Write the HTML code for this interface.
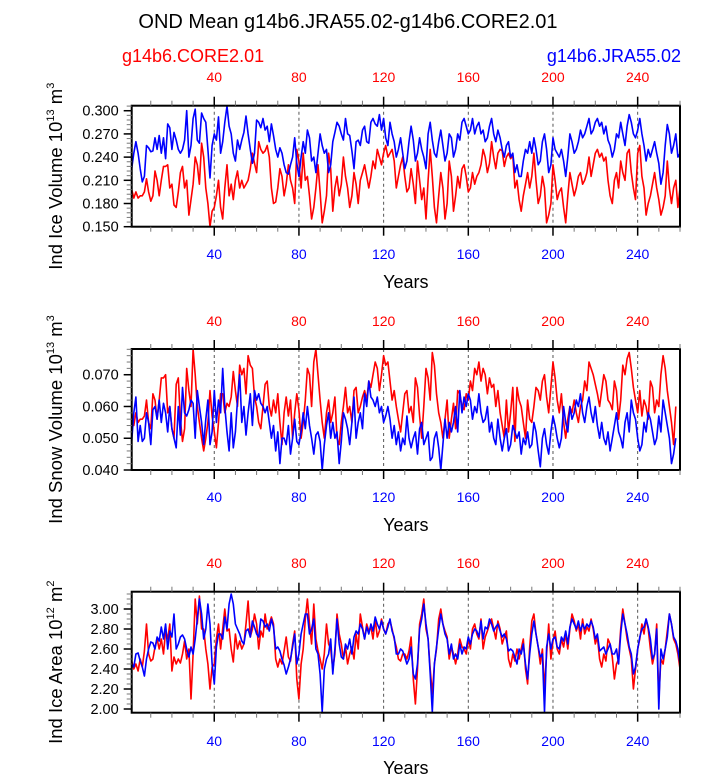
<!DOCTYPE html>
<html><head><meta charset="utf-8"><style>
body{margin:0;background:#fff;}
svg{display:block;font-family:"Liberation Sans",Arial,sans-serif;}
</style></head><body>
<svg id="chart" width="723" height="775" viewBox="0 0 723 775" xmlns="http://www.w3.org/2000/svg">
<text x="348" y="28" font-size="20" text-anchor="middle">OND Mean g14b6.JRA55.02-g14b6.CORE2.01</text>
<text x="122" y="62" font-size="18" fill="#ff0000">g14b6.CORE2.01</text>
<text x="681" y="62" font-size="18" fill="#0000ff" text-anchor="end">g14b6.JRA55.02</text>
<g id="panels"></g>
</svg>
<script>
const years = [40,80,120,160,200,240];
const iceVolCore = [0.198,0.187,0.195,0.187,0.19,0.19,0.195,0.212,0.195,0.183,0.19,0.222,0.21,0.19,0.21,0.228,0.228,0.23,0.2,0.205,0.178,0.175,0.195,0.22,0.228,0.2,0.21,0.165,0.185,0.205,0.24,0.23,0.205,0.258,0.24,0.2,0.18,0.15,0.17,0.175,0.19,0.21,0.175,0.16,0.2,0.23,0.19,0.205,0.185,0.21,0.222,0.2,0.21,0.2,0.205,0.21,0.225,0.245,0.232,0.22,0.26,0.25,
0.245,0.248,0.255,0.24,0.2,0.18,0.182,0.2,0.225,0.215,0.19,0.205,0.23,0.21,0.2,0.18,0.25,0.235,0.2,0.245,0.21,0.215,0.19,0.16,0.175,0.2,0.23,0.195,0.155,0.17,0.19,0.245,0.225,0.17,0.2,0.215,0.19,0.205,0.24,0.215,0.2,0.175,0.19,0.22,0.205,0.18,0.21,0.22,0.23,0.215,0.2,0.215,0.235,0.225,0.25,0.24,0.23,0.245,0.255,0.24,0.245,0.25,
0.235,0.2,0.215,0.23,0.24,0.215,0.195,0.2,0.225,0.205,0.18,0.235,0.21,0.185,0.2,0.16,0.21,0.25,0.215,0.175,0.155,0.19,0.22,0.2,0.16,0.18,0.235,0.215,0.17,0.19,0.215,0.2,0.225,0.23,0.215,0.195,0.2,0.22,0.205,0.215,0.22,0.23,0.25,0.24,0.22,0.232,0.26,0.24,0.225,0.245,0.25,0.248,0.228,0.24,0.245,0.238,0.242,0.2,0.21,0.185,0.17,0.19,
0.205,0.22,0.2,0.215,0.245,0.21,0.18,0.19,0.215,0.2,0.155,0.165,0.18,0.23,0.21,0.185,0.195,0.2,0.175,0.155,0.19,0.22,0.205,0.19,0.2,0.215,0.22,0.205,0.21,0.22,0.24,0.215,0.23,0.245,0.25,0.24,0.245,0.235,0.24,0.21,0.19,0.18,0.21,0.22,0.2,0.235,0.22,0.21,0.245,0.25,0.22,0.2,0.185,0.245,0.255,0.215,0.2,0.165,0.18,0.19,0.205,0.22,
0.2,0.185,0.165,0.175,0.19,0.235,0.2,0.18,0.2,0.21,0.175,0.2];
const iceVolJra = [0.225,0.245,0.26,0.245,0.225,0.208,0.215,0.255,0.252,0.247,0.248,0.265,0.25,0.268,0.245,0.265,0.238,0.283,0.278,0.25,0.272,0.262,0.25,0.245,0.25,0.262,0.3,0.24,0.255,0.29,0.302,0.262,0.258,0.297,0.29,0.285,0.25,0.213,0.255,0.27,0.262,0.292,0.245,0.26,0.285,0.306,0.28,0.27,0.245,0.235,0.262,0.25,0.262,0.272,0.293,0.27,0.25,0.232,0.245,0.288,0.285,0.278,
0.29,0.275,0.28,0.26,0.283,0.268,0.25,0.24,0.252,0.245,0.23,0.22,0.218,0.23,0.24,0.265,0.232,0.215,0.24,0.26,0.245,0.275,0.265,0.235,0.24,0.22,0.245,0.27,0.255,0.245,0.25,0.22,0.23,0.26,0.272,0.285,0.28,0.27,0.262,0.29,0.27,0.268,0.248,0.225,0.26,0.262,0.255,0.275,0.28,0.26,0.258,0.285,0.29,0.283,0.28,0.295,0.275,0.29,0.265,0.255,0.285,0.27,
0.26,0.24,0.25,0.265,0.245,0.225,0.235,0.26,0.28,0.262,0.235,0.245,0.265,0.25,0.24,0.225,0.27,0.285,0.262,0.245,0.24,0.26,0.275,0.255,0.235,0.245,0.27,0.265,0.24,0.25,0.27,0.262,0.285,0.29,0.28,0.27,0.275,0.29,0.27,0.28,0.285,0.27,0.275,0.26,0.265,0.28,0.29,0.27,0.26,0.275,0.265,0.25,0.24,0.255,0.26,0.24,0.245,0.22,0.23,0.215,0.215,0.235,
0.25,0.245,0.26,0.245,0.265,0.25,0.23,0.235,0.26,0.27,0.25,0.22,0.23,0.265,0.25,0.245,0.24,0.25,0.235,0.215,0.24,0.27,0.26,0.245,0.25,0.26,0.275,0.265,0.27,0.28,0.29,0.27,0.275,0.285,0.29,0.28,0.285,0.27,0.28,0.262,0.255,0.24,0.25,0.27,0.265,0.285,0.27,0.255,0.28,0.295,0.285,0.27,0.265,0.275,0.29,0.27,0.255,0.235,0.25,0.24,0.25,0.26,
0.245,0.232,0.205,0.22,0.255,0.282,0.27,0.245,0.255,0.27,0.24,0.245];
const snowCore = [0.058,0.054,0.058,0.055,0.056,0.056,0.057,0.062,0.055,0.053,0.064,0.062,0.056,0.062,0.069,0.069,0.07,0.058,0.06,0.053,0.05,0.067,0.069,0.056,0.049,0.053,0.072,0.065,0.06,0.078,0.07,0.06,0.055,0.05,0.046,0.05,0.055,0.065,0.057,0.052,0.047,0.055,0.064,0.064,0.058,0.061,0.06,0.063,0.071,0.065,0.06,0.073,0.07,0.072,0.064,0.076,0.073,0.072,0.063,0.06,0.055,0.053,
0.06,0.067,0.068,0.06,0.057,0.062,0.058,0.064,0.055,0.048,0.058,0.063,0.057,0.062,0.05,0.058,0.064,0.059,0.05,0.055,0.062,0.072,0.07,0.06,0.074,0.078,0.07,0.062,0.055,0.05,0.058,0.062,0.055,0.058,0.063,0.05,0.048,0.055,0.06,0.066,0.058,0.06,0.055,0.065,0.066,0.058,0.06,0.063,0.065,0.062,0.068,0.066,0.07,0.074,0.072,0.065,0.07,0.076,0.073,0.074,
0.068,0.062,0.065,0.06,0.056,0.052,0.058,0.064,0.065,0.058,0.06,0.055,0.069,0.066,0.057,0.05,0.06,0.072,0.069,0.062,0.077,0.073,0.064,0.058,0.055,0.05,0.056,0.062,0.05,0.056,0.061,0.053,0.065,0.064,0.06,0.059,0.064,0.062,0.068,0.065,0.072,0.07,0.074,0.068,0.072,0.07,0.064,0.069,0.066,0.067,0.06,0.065,0.058,0.054,0.05,0.062,0.052,0.058,0.066,0.049,0.066,0.062,
0.06,0.055,0.05,0.062,0.056,0.055,0.06,0.066,0.065,0.062,0.068,0.07,0.063,0.058,0.066,0.074,0.069,0.062,0.058,0.064,0.055,0.05,0.056,0.06,0.058,0.062,0.058,0.055,0.06,0.062,0.068,0.065,0.074,0.072,0.07,0.067,0.064,0.06,0.065,0.07,0.068,0.062,0.061,0.059,0.068,0.065,0.056,0.062,0.073,0.07,0.075,0.077,0.072,0.066,0.062,0.058,0.065,0.057,0.062,0.06,0.056,0.068,
0.066,0.058,0.062,0.06,0.07,0.076,0.072,0.065,0.06,0.055,0.048,0.06];
const snowJra = [0.049,0.058,0.063,0.049,0.054,0.049,0.05,0.058,0.055,0.048,0.059,0.06,0.056,0.062,0.055,0.061,0.058,0.052,0.06,0.053,0.05,0.047,0.06,0.051,0.066,0.058,0.057,0.059,0.062,0.061,0.05,0.065,0.06,0.055,0.048,0.056,0.062,0.048,0.052,0.065,0.055,0.062,0.058,0.072,0.06,0.052,0.046,0.058,0.047,0.052,0.062,0.07,0.055,0.06,0.051,0.058,0.064,0.054,0.065,0.062,0.064,0.061,
0.06,0.058,0.06,0.055,0.05,0.054,0.046,0.052,0.042,0.05,0.05,0.048,0.054,0.045,0.05,0.056,0.049,0.048,0.052,0.058,0.053,0.06,0.054,0.05,0.045,0.051,0.052,0.049,0.04,0.048,0.054,0.058,0.05,0.055,0.05,0.052,0.042,0.049,0.058,0.056,0.053,0.048,0.055,0.063,0.05,0.055,0.058,0.053,0.064,0.06,0.068,0.063,0.062,0.06,0.063,0.058,0.06,0.055,0.057,0.06,
0.056,0.05,0.054,0.048,0.052,0.046,0.05,0.048,0.057,0.05,0.047,0.05,0.052,0.045,0.053,0.055,0.048,0.05,0.052,0.043,0.044,0.05,0.052,0.047,0.04,0.048,0.056,0.05,0.055,0.052,0.055,0.06,0.052,0.065,0.058,0.063,0.06,0.064,0.062,0.056,0.06,0.058,0.064,0.058,0.055,0.056,0.06,0.052,0.055,0.05,0.048,0.056,0.05,0.046,0.05,0.053,0.046,0.048,0.054,0.052,0.05,0.052,
0.045,0.05,0.048,0.052,0.047,0.048,0.055,0.052,0.046,0.041,0.05,0.053,0.048,0.045,0.052,0.057,0.054,0.05,0.047,0.05,0.06,0.055,0.052,0.06,0.056,0.058,0.062,0.06,0.064,0.058,0.055,0.06,0.063,0.058,0.055,0.06,0.054,0.05,0.055,0.05,0.048,0.052,0.046,0.05,0.054,0.058,0.052,0.05,0.047,0.055,0.058,0.052,0.062,0.058,0.056,0.05,0.046,0.048,0.055,0.052,0.058,0.056,
0.052,0.048,0.05,0.057,0.052,0.062,0.058,0.054,0.05,0.042,0.045,0.05];
const areaCore = [2.48,2.4,2.45,2.38,2.5,2.42,2.58,2.85,2.55,2.48,2.5,2.62,2.7,2.6,2.7,2.55,2.78,2.7,2.85,2.38,2.52,2.45,2.5,2.46,2.55,2.68,2.5,2.6,2.1,2.55,3.1,2.85,3.13,2.8,2.8,2.6,2.45,2.2,2.42,2.45,2.7,2.85,2.6,2.8,3.0,2.78,2.8,2.6,2.47,2.75,2.6,2.68,2.6,2.65,2.85,3.08,2.72,2.8,2.95,2.85,2.6,2.78,
2.72,2.95,2.8,2.85,2.92,2.85,2.5,2.42,2.5,2.45,2.58,2.72,2.52,2.48,2.65,2.78,2.3,2.1,2.45,2.6,2.9,3.1,2.85,2.65,3.05,2.7,2.58,2.5,2.4,2.55,2.85,2.65,2.6,2.4,2.55,2.95,2.75,2.65,2.5,2.62,2.45,2.55,2.62,2.5,2.75,2.6,2.95,2.82,2.7,2.85,2.78,2.82,2.7,2.9,2.72,2.78,2.9,2.8,2.75,2.85,2.88,2.8,
2.7,2.62,2.5,2.48,2.55,2.55,2.5,2.58,2.72,2.3,2.05,2.4,2.85,2.95,3.1,2.8,2.7,2.4,2.15,2.45,2.6,2.9,3.0,2.85,2.78,2.72,2.5,2.62,2.55,2.45,2.55,2.7,2.62,2.6,2.55,2.7,2.6,2.8,2.85,2.75,2.7,2.9,2.6,2.72,2.78,2.85,2.9,2.8,2.7,2.88,2.8,2.65,2.72,2.78,2.5,2.42,2.55,2.48,2.6,2.5,2.6,2.7,
2.4,2.25,2.62,2.88,2.95,2.75,2.62,2.45,2.6,2.2,2.55,2.85,2.5,2.68,2.78,2.6,2.55,2.7,2.62,2.75,2.6,2.8,2.95,2.88,2.78,2.85,2.7,2.9,2.75,2.82,2.78,2.9,2.8,2.65,2.72,2.5,2.42,2.55,2.48,2.7,2.65,2.52,2.3,2.45,2.5,2.8,3.0,2.85,2.7,2.6,2.5,2.2,2.4,2.6,2.7,2.85,2.75,2.9,2.8,2.6,2.45,2.55,
2.85,2.1,2.5,2.45,2.6,2.78,2.95,2.85,2.7,2.65,2.55,2.4];
const areaJra = [2.45,2.42,2.55,2.56,2.48,2.42,2.33,2.5,2.6,2.67,2.66,2.6,2.72,2.68,2.82,2.7,2.85,2.6,2.78,2.72,2.95,2.6,2.65,2.72,2.74,2.7,2.6,2.52,2.62,2.55,2.7,2.9,3.1,2.95,2.7,2.8,3.05,2.85,2.45,2.25,2.62,2.75,2.75,2.7,2.92,2.8,3.05,3.15,3.05,2.85,2.8,2.75,2.68,2.65,2.78,2.8,2.72,2.88,2.82,2.75,2.72,2.9,
2.88,2.82,2.85,2.78,2.9,2.82,2.6,2.62,2.58,2.5,2.44,2.35,2.42,2.5,2.62,2.75,2.45,2.55,2.75,2.85,2.95,2.95,2.75,2.8,2.9,2.6,2.55,2.35,1.97,2.4,2.5,2.55,2.7,2.35,2.6,2.9,2.65,2.52,2.5,2.65,2.6,2.7,2.55,2.72,2.78,2.75,2.85,2.8,2.7,2.82,2.75,2.85,2.78,2.92,2.85,2.8,2.88,2.8,2.75,2.82,2.9,2.78,
2.72,2.55,2.55,2.6,2.58,2.52,2.45,2.5,2.62,2.35,2.3,2.45,2.8,2.9,3.05,2.85,2.7,2.35,1.97,2.45,2.62,2.8,2.95,2.85,2.75,2.7,2.55,2.65,2.5,2.55,2.5,2.65,2.55,2.62,2.6,2.72,2.65,2.75,2.8,2.78,2.72,2.88,2.7,2.82,2.8,2.9,2.85,2.78,2.82,2.85,2.78,2.72,2.75,2.7,2.58,2.6,2.58,2.52,2.45,2.6,2.55,2.65,
2.45,2.3,2.55,2.75,2.88,2.75,2.62,2.52,2.55,1.97,2.62,2.75,2.6,2.7,2.72,2.62,2.6,2.72,2.68,2.78,2.65,2.82,2.9,2.85,2.8,2.88,2.78,2.85,2.8,2.85,2.82,2.88,2.82,2.7,2.75,2.58,2.6,2.62,2.55,2.6,2.65,2.55,2.55,2.6,2.45,2.75,2.95,2.85,2.75,2.62,2.55,2.35,2.42,2.6,2.72,2.8,2.82,2.9,2.82,2.7,2.5,2.55,
2.8,2.0,2.6,2.5,2.6,2.72,2.95,2.85,2.72,2.68,2.6,2.45];
const iceVolTicks = ["0.150","0.180","0.210","0.240","0.270","0.300"];
const snowTicks = ["0.040","0.050","0.060","0.070"];
const areaTicks = ["2.00","2.20","2.40","2.60","2.80","3.00"];

const NS="http://www.w3.org/2000/svg";
const X0=131.7, X1=680;
function xScale(yr){return X0+(yr-1)*(X1-X0)/259;}
function mk(tag,attrs,parent){const e=document.createElementNS(NS,tag);for(const k in attrs)e.setAttribute(k,attrs[k]);parent.appendChild(e);return e;}

const panels=[
 {top:105.7,bot:226.7,ymin:0.15,ymax:0.3065,ticks:iceVolTicks,minor:0.006,core:iceVolCore,jra:iceVolJra,title:"Ind Ice Volume 10",exp1:"13",unit:" m",exp2:"3",name:"ice-volume",lblTop:82,lblBot:259,yrs:288},
 {top:349,bot:470,ymin:0.04,ymax:0.0781,ticks:snowTicks,minor:0.002,core:snowCore,jra:snowJra,title:"Ind Snow Volume 10",exp1:"13",unit:" m",exp2:"3",name:"snow-volume",lblTop:326,lblBot:502,yrs:531},
 {top:591.7,bot:712.7,ymin:1.963,ymax:3.173,ticks:areaTicks,minor:0.05,core:areaCore,jra:areaJra,title:"Ind Ice Area 10",exp1:"12",unit:" m",exp2:"2",name:"ice-area",lblTop:568,lblBot:746,yrs:774}
];
const root=document.getElementById('panels');
panels.forEach(p=>{
  const g=mk('g',{},root);
  
  
  const yS=v=>p.bot-(v-p.ymin)*(p.bot-p.top)/(p.ymax-p.ymin);
  years.forEach(yr=>{
    const l=mk('line',{x1:xScale(yr),x2:xScale(yr),y1:p.top,y2:p.bot,stroke:'#555','stroke-width':1,'stroke-dasharray':'3,3'},g);
    
    
  });
  [[p.core,'#ff0000','core'],[p.jra,'#0000ff','jra']].forEach(([arr,col,nm])=>{
    const pts=arr.map((v,i)=>xScale(i+1).toFixed(1)+','+yS(Math.max(p.ymin,Math.min(p.ymax,v))).toFixed(1)).join(' ');
    const pl=mk('polyline',{points:pts,fill:'none',stroke:col,'stroke-width':1.6,'stroke-linejoin':'round'},g);
    
    
  });
  const fr=mk('rect',{x:X0,y:p.top,width:X1-X0,height:p.bot-p.top,fill:'none',stroke:'#000','stroke-width':2},g);
  
  
  for(let yr=10;yr<=260;yr+=10){
    const major=yr%40===0, x=xScale(yr), len=major?9:5;
    mk('line',{x1:x,x2:x,y1:p.top,y2:p.top-len,stroke:major?'#000':'#777','stroke-width':major?1.5:1},g);
    mk('line',{x1:x,x2:x,y1:p.bot,y2:p.bot+len,stroke:major?'#000':'#777','stroke-width':major?1.5:1},g);
  }
  years.forEach(yr=>{
    const t=mk('text',{x:xScale(yr),y:p.lblTop,'font-size':14,'text-anchor':'middle',fill:'#ff0000'},g);
    t.textContent=yr;
    
    
    const b=mk('text',{x:xScale(yr),y:p.lblBot,'font-size':14,'text-anchor':'middle',fill:'#0000ff'},g);
    b.textContent=yr;
    
    
  });
  const yt=mk('text',{x:(X0+X1)/2,y:p.yrs,'font-size':18,'text-anchor':'middle'},g);
  yt.textContent='Years';
  
  
  for(let v=p.ymin;v<=p.ymax+1e-9;v+=p.minor){
    const vv=Math.round(v/p.minor)*p.minor; if(vv<p.ymin-1e-9) continue;
    const y=yS(vv);
    if(y<p.top-0.5||y>p.bot+0.5) continue;
    mk('line',{x1:X0,x2:X0-5,y1:y,y2:y,stroke:'#777','stroke-width':1},g);
  }
  p.ticks.forEach(s=>{
    const y=yS(parseFloat(s));
    mk('line',{x1:X0,x2:X0-8,y1:y,y2:y,stroke:'#000','stroke-width':1.5},g);
    const t=mk('text',{x:X0-13,y:y+5,'font-size':14.5,'text-anchor':'end'},g);
    t.textContent=s;
    
    
  });
  const cy=(p.top+p.bot)/2+10;
  const tt=mk('text',{x:0,y:0,'font-size':18.5,'text-anchor':'middle',transform:`translate(62,${cy}) rotate(-90)`},g);
  
  
  tt.appendChild(document.createTextNode(p.title));
  const s1=mk('tspan',{'font-size':11,dy:-8},tt); s1.textContent=p.exp1;
  const u=mk('tspan',{dy:8},tt); u.textContent=p.unit;
  const s2=mk('tspan',{'font-size':11,dy:-8},tt); s2.textContent=p.exp2;
});
</script>
</body></html>
